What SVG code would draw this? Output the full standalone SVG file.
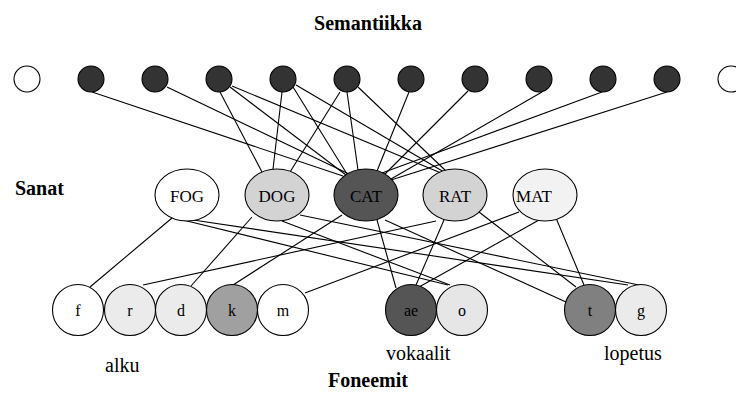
<svg xmlns="http://www.w3.org/2000/svg" width="736" height="415" viewBox="0 0 736 415">
<style>
.c{stroke:#000;stroke-width:1.1;fill:none}
.n{stroke:#000;stroke-width:1.1}
.sem{fill:#333}
.lbl{font-family:"Liberation Serif","Times New Roman",serif;font-size:17px;text-anchor:middle;fill:#000}
.ph{font-family:"Liberation Serif","Times New Roman",serif;font-size:16px;text-anchor:middle;fill:#000}
.hd{font-family:"Liberation Serif","Times New Roman",serif;font-size:20px;font-weight:bold;fill:#000}
.tx{font-family:"Liberation Serif","Times New Roman",serif;font-size:20px;fill:#000}
</style>
<rect width="736" height="415" fill="#fff"/>
<text class="hd" x="368" y="30" text-anchor="middle">Semantiikka</text>
<text class="hd" x="15" y="195">Sanat</text>
<text class="hd" x="368" y="387" text-anchor="middle">Foneemit</text>
<text class="tx" x="105" y="372">alku</text>
<text class="tx" x="386" y="360">vokaalit</text>
<text class="tx" x="604" y="360">lopetus</text>
<g id="connectors" class="c">
<path d="M92,92L343,176"/>
<path d="M167,87L349,174"/>
<path d="M220,92L262,172"/>
<path d="M230,87L346,175"/>
<path d="M232,86L441,173"/>
<path d="M282,92L273,169"/>
<path d="M293,87L347,174"/>
<path d="M296,85L444,172"/>
<path d="M340,92L290,172"/>
<path d="M347,92L358,170"/>
<path d="M358,87L446,171"/>
<path d="M409,92L377,171"/>
<path d="M468,91L385,174"/>
<path d="M542,92L391,179"/>
<path d="M602,92L382,173"/>
<path d="M667,92L391,180"/>
<path d="M172,218L90,287"/>
<path d="M183,220L448,285"/>
<path d="M193,220L628,285"/>
<path d="M252,217L191,286"/>
<path d="M282,221L450,285"/>
<path d="M300,215L639,285"/>
<path d="M342,215L233,285"/>
<path d="M377,220L396,288"/>
<path d="M385,220L566,302"/>
<path d="M436,221L143,285"/>
<path d="M444,220L416,285"/>
<path d="M479,212L576,287"/>
<path d="M519,212L305,293"/>
<path d="M539,220L419,287"/>
<path d="M556,218L584,285"/>
</g>
<g id="s0"><circle class="n" cx="27" cy="79" r="13" fill="#fff"/></g>
<g id="s1"><circle class="n sem" cx="91" cy="79" r="13"/></g>
<g id="s2"><circle class="n sem" cx="155" cy="79" r="13"/></g>
<g id="s3"><circle class="n sem" cx="219" cy="79" r="13"/></g>
<g id="s4"><circle class="n sem" cx="283" cy="79" r="13"/></g>
<g id="s5"><circle class="n sem" cx="347" cy="79" r="13"/></g>
<g id="s6"><circle class="n sem" cx="411" cy="79" r="13"/></g>
<g id="s7"><circle class="n sem" cx="475" cy="79" r="13"/></g>
<g id="s8"><circle class="n sem" cx="539" cy="79" r="13"/></g>
<g id="s9"><circle class="n sem" cx="603" cy="79" r="13"/></g>
<g id="s10"><circle class="n sem" cx="667" cy="79" r="13"/></g>
<g id="s11"><circle class="n" cx="731" cy="79" r="13" fill="#fff"/></g>
<g id="FOG"><ellipse class="n" cx="187" cy="195" rx="32" ry="26" fill="#fff"/><text class="lbl" x="187" y="202">FOG</text></g>
<g id="DOG"><ellipse class="n" cx="277" cy="195" rx="32" ry="26" fill="#d3d3d3"/><text class="lbl" x="277" y="202">DOG</text></g>
<g id="CAT"><ellipse class="n" cx="366" cy="195" rx="32" ry="26" fill="#555"/><text class="lbl" x="366" y="202">CAT</text></g>
<g id="RAT"><ellipse class="n" cx="455" cy="195" rx="32" ry="26" fill="#d3d3d3"/><text class="lbl" x="455" y="202">RAT</text></g>
<g id="MAT"><ellipse class="n" cx="545" cy="195" rx="32" ry="26" fill="#f2f2f2"/><text class="lbl" x="534" y="202">MAT</text></g>
<g id="f"><circle class="n" cx="78" cy="310" r="25.5" fill="#fff"/><text class="ph" x="78" y="316">f</text></g>
<g id="r"><circle class="n" cx="130" cy="310" r="25.5" fill="#ebebeb"/><text class="ph" x="130" y="316">r</text></g>
<g id="d"><circle class="n" cx="181" cy="310" r="25.5" fill="#ebebeb"/><text class="ph" x="181" y="316">d</text></g>
<g id="k"><circle class="n" cx="232" cy="310" r="25.5" fill="#a0a0a0"/><text class="ph" x="232" y="316">k</text></g>
<g id="m"><circle class="n" cx="283" cy="310" r="25.5" fill="#fff"/><text class="ph" x="283" y="316">m</text></g>
<g id="ae"><circle class="n" cx="411" cy="310" r="25.5" fill="#555"/><text class="ph" x="411" y="316">ae</text></g>
<g id="o"><circle class="n" cx="462" cy="310" r="25.5" fill="#e6e6e6"/><text class="ph" x="462" y="316">o</text></g>
<g id="t"><circle class="n" cx="590" cy="310" r="25.5" fill="#808080"/><text class="ph" x="590" y="316">t</text></g>
<g id="g"><circle class="n" cx="641" cy="310" r="25.5" fill="#ebebeb"/><text class="ph" x="641" y="316">g</text></g>
</svg>
